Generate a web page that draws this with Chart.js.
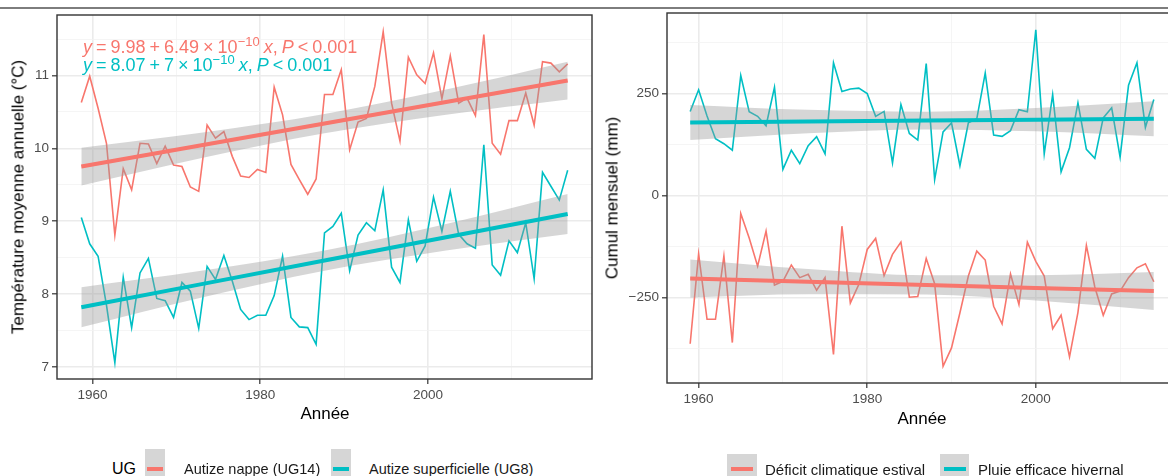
<!DOCTYPE html>
<html lang="fr">
<head>
<meta charset="utf-8">
<title>Température annuelle et bilan hydrique</title>
<script src="https://cdn.jsdelivr.net/npm/chart.js"></script>
<style>
  html, body { margin: 0; padding: 0; background: #fff; }
  body { position: relative; width: 1168px; height: 476px; overflow: hidden;
         font-family: "Liberation Sans", Arial, sans-serif; }
  .rule { position: absolute; left: 0; top: 7px; width: 1168px; height: 2px; background: #7d7d7d; }
  canvas { position: absolute; top: 0; }
  .txt { position: absolute; white-space: nowrap; line-height: 1; color: #000; }
  .ytitle { transform: translate(-50%, -50%) rotate(-90deg); font-size: 17px; }
  .xtitle { transform: translate(-50%, -50%); font-size: 17px; }
  .eq { position: absolute; white-space: nowrap; font-size: 18px; line-height: 18px; word-spacing: -1px; }
  .eq sup { font-size: 13px; line-height: 0; vertical-align: 7px; }
  .key { position: absolute; background: #d6d6d6; }
  .keyline { position: absolute; height: 3.5px; }
  .leg { position: absolute; white-space: nowrap; line-height: 1; color: #1a1a1a; transform: translateY(-50%); }
</style>
</head>
<body>
<div class="rule"></div>
<canvas id="leftChart" width="600" height="440" style="left:0"></canvas>
<canvas id="rightChart" width="600" height="440" style="left:595px"></canvas>

<!-- left figure texts -->
<div class="txt ytitle" style="left:18px; top:197px">Température moyenne annuelle (°C)</div>
<div class="txt xtitle" style="left:325px; top:413px">Année</div>
<div class="eq" style="left:83px; top:38px; color:#F8766D"><i>y</i> = 9.98 + 6.49 × 10<sup>−10</sup> <i>x</i>, <i>P</i> &lt; 0.001</div>
<div class="eq" style="left:83px; top:55.5px; color:#00BFC4"><i>y</i> = 8.07 + 7 × 10<sup>−10</sup> <i>x</i>, <i>P</i> &lt; 0.001</div>

<div class="leg" style="left:112px; top:469px; font-size:16px; color:#000">UG</div>
<div class="key" style="left:145px; top:449px; width:20px; height:40px"></div>
<div class="keyline" style="left:147px; top:467px; width:16px; background:#F8766D"></div>
<div class="leg" style="left:184px; top:469px; font-size:14.5px">Autize nappe (UG14)</div>
<div class="key" style="left:331px; top:449px; width:20px; height:40px"></div>
<div class="keyline" style="left:333px; top:467px; width:16px; background:#00BFC4"></div>
<div class="leg" style="left:369px; top:469px; font-size:14.5px">Autize superficielle (UG8)</div>

<!-- right figure texts -->
<div class="txt ytitle" style="left:612px; top:198px">Cumul mensuel (mm)</div>
<div class="txt xtitle" style="left:922px; top:418px">Année</div>

<div class="key" style="left:727px; top:454px; width:30px; height:40px"></div>
<div class="keyline" style="left:731px; top:467px; width:22px; background:#F8766D"></div>
<div class="leg" style="left:765px; top:469px; font-size:15px">Déficit climatique estival</div>
<div class="key" style="left:940px; top:454px; width:29px; height:40px"></div>
<div class="keyline" style="left:944px; top:467px; width:22px; background:#00BFC4"></div>
<div class="leg" style="left:978px; top:469px; font-size:15px">Pluie efficace hivernal</div>

<script>
// ---- left figure: mean annual temperature (hydrological years) ----
const hydroYears = [];
for (let y = 1959; y <= 2017; y++) hydroYears.push(y);
// a hydrological year starts on 1 September of the previous calendar year
const hydroOffset = -4 / 12;

const tempNappe = [10.63, 10.99, 10.55, 10.07, 8.81, 9.72, 9.43, 10.07, 10.06, 9.79,
  10.03, 9.77, 9.75, 9.47, 9.41, 10.32, 10.14, 10.23, 9.89, 9.62,
  9.60, 9.71, 9.67, 10.84, 10.46, 9.78, 9.57, 9.37, 9.58, 10.74,
  10.74, 11.08, 9.98, 10.36, 10.41, 10.85, 11.60, 10.62, 10.10, 11.25,
  11.01, 10.89, 11.31, 10.68, 11.27, 10.62, 10.69, 10.45, 11.56, 10.07,
  9.92, 10.38, 10.38, 10.76, 10.32, 11.19, 11.17, 11.05, 11.16];
const tempSuperf = [9.05, 8.69, 8.52, 7.85, 7.06, 8.23, 7.54, 8.29, 8.49, 7.94,
  7.91, 7.68, 8.16, 8.04, 7.53, 8.38, 8.20, 8.53, 8.18, 7.79,
  7.65, 7.71, 7.71, 7.98, 8.52, 7.68, 7.55, 7.54, 7.31, 8.84,
  8.93, 9.11, 8.32, 8.81, 8.98, 8.87, 9.43, 8.37, 8.16, 9.02,
  8.45, 8.66, 9.33, 8.86, 9.41, 8.82, 8.69, 8.63, 10.05, 8.40,
  8.26, 8.73, 8.57, 8.98, 8.21, 9.67, 9.48, 9.29, 9.70];

// linear fit and its confidence band, read at a few years
const fitYearsLeft = [1959, 1973.5, 1988, 2002.5, 2017];
const fitNappe = [9.75, 10.045, 10.34, 10.635, 10.93];
const bandNappeLow = [9.49, 9.872, 10.208, 10.462, 10.67];
const bandNappeHigh = [10.01, 10.218, 10.472, 10.808, 11.19];
const fitSuperf = [7.82, 8.14, 8.46, 8.78, 9.10];
const bandSuperfLow = [7.545, 7.957, 8.321, 8.597, 8.825];
const bandSuperfHigh = [8.095, 8.323, 8.599, 8.963, 9.375];

const leftXMajor = [1960, 1980, 2000];
const leftXMinor = [1970, 1990, 2010];
const leftYMajor = [7, 8, 9, 10, 11];
const leftYMinor = [7.5, 8.5, 9.5, 10.5, 11.5];

// ---- right figure: seasonal water balance ----
const years = [];
for (let y = 1959; y <= 2014; y++) years.push(y);

const deficitEte = [-363, -143, -303, -303, -148, -360, -44, -104, -173, -87,
  -219, -210, -170, -201, -193, -232, -201, -389, -75, -263,
  -218, -132, -105, -196, -144, -114, -249, -247, -154, -216,
  -418, -373, -287, -197, -136, -158, -271, -314, -192, -267,
  -114, -161, -197, -326, -293, -395, -286, -122, -224, -293,
  -241, -234, -201, -177, -167, -211];
const pluieHiver = [206, 259, 195, 139, 127, 111, 294, 205, 194, 171,
  265, 64, 111, 78, 122, 144, 102, 325, 255, 261,
  263, 250, 194, 206, 80, 223, 152, 136, 323, 39,
  156, 178, 73, 178, 188, 300, 148, 145, 159, 210,
  205, 406, 102, 247, 58, 117, 227, 113, 91, 190,
  215, 94, 270, 325, 167, 235];

const fitYearsRight = [1959, 1973, 1987, 2000, 2014];
const fitDeficit = [-203, -210.9, -218.8, -226.1, -234];
const bandDeficitLow = [-249.5, -241.9, -242.4, -257.1, -280.5];
const bandDeficitHigh = [-156.5, -179.9, -195.2, -195.1, -187.5];
const fitPluie = [179, 181.3, 183.6, 185.8, 188];
const bandPluieLow = [136, 152.7, 161.8, 157.2, 145];
const bandPluieHigh = [222, 209.9, 205.4, 214.4, 231];

const rightXMajor = [1960, 1980, 2000];
const rightXMinor = [1970, 1990, 2010];
const rightYMajor = [-250, 0, 250];
const rightYMinor = [-375, -125, 125, 375];

// ---- styles ----
const RED = '#F8766D';
const TEAL = '#00BFC4';
const BAND = 'rgba(153,153,153,0.4)';
const FONT = "'Liberation Sans', Arial, sans-serif";

Chart.defaults.font.family = FONT;

function pts(xs, ys, shift = 0) {
    return xs.map((x, i) => ({ x: x + shift, y: ys[i] }));
}

function has(list, v) {
    return list.some(m => Math.abs(m - v) < 1e-6);
}

function scaleOpts(min, max, majors, minors, fitSize, fmt) {
    return {
        type: 'linear',
        min: min,
        max: max,
        afterBuildTicks: s => {
            s.ticks = majors.concat(minors).sort((a, b) => a - b).map(v => ({ value: v }));
        },
        afterFit: fitSize,
        border: { display: false },
        grid: {
            color: c => has(majors, c.tick.value) ? '#ebebeb' : '#f3f3f3',
            lineWidth: c => has(majors, c.tick.value) ? 1.6 : 0.8,
            tickColor: c => has(majors, c.tick.value) ? '#333333' : 'rgba(0,0,0,0)',
            tickLength: 5,
            tickWidth: 1.2
        },
        ticks: {
            autoSkip: false,
            maxRotation: 0,
            padding: 3,
            color: '#4d4d4d',
            font: { size: 13.5 },
            callback: v => has(majors, v) ? fmt(v) : ''
        }
    };
}

const panelBorder = {
    id: 'panelBorder',
    afterDatasetsDraw(chart) {
        const { ctx, chartArea: a } = chart;
        ctx.save();
        ctx.strokeStyle = '#333333';
        ctx.lineWidth = 1.4;
        ctx.strokeRect(a.left, a.top, a.right - a.left, a.bottom - a.top);
        ctx.restore();
    }
};

function seriesSets(xs, ys, color, shift) {
    return { data: pts(xs, ys, shift), borderColor: color, borderWidth: 1.6,
             pointRadius: 0, fill: false, order: 2 };
}

function bandSets(xs, low, high, shift) {
    return [
        { data: pts(xs, high, shift), borderColor: 'transparent', borderWidth: 0, pointRadius: 0,
          fill: false, order: 1, cubicInterpolationMode: 'monotone' },
        { data: pts(xs, low, shift), borderColor: 'transparent', borderWidth: 0, pointRadius: 0,
          fill: '-1', backgroundColor: BAND, order: 1, cubicInterpolationMode: 'monotone' }
    ];
}

function fitSet(xs, ys, color, shift) {
    return { data: pts(xs, ys, shift), borderColor: color, borderWidth: 4, pointRadius: 0,
             fill: false, order: 0 };
}

const baseOptions = {
    responsive: false,
    animation: false,
    plugins: { legend: { display: false }, tooltip: { enabled: false } }
};

// left chart: x range is the data range expanded by 5 % on each side
const leftFirst = hydroYears[0] + hydroOffset;
const leftLast = hydroYears[hydroYears.length - 1] + hydroOffset;
const leftPad = 0.05 * (leftLast - leftFirst);

new Chart(document.getElementById('leftChart'), {
    type: 'line',
    data: {
        datasets: [
            seriesSets(hydroYears, tempNappe, RED, hydroOffset),
            seriesSets(hydroYears, tempSuperf, TEAL, hydroOffset),
            ...bandSets(fitYearsLeft, bandNappeLow, bandNappeHigh, hydroOffset),
            ...bandSets(fitYearsLeft, bandSuperfLow, bandSuperfHigh, hydroOffset),
            fitSet(fitYearsLeft, fitNappe, RED, hydroOffset),
            fitSet(fitYearsLeft, fitSuperf, TEAL, hydroOffset)
        ]
    },
    options: {
        ...baseOptions,
        layout: { padding: { left: 0, right: 8, top: 15, bottom: 21 } },
        scales: {
            x: scaleOpts(leftFirst - leftPad, leftLast + leftPad, leftXMajor, leftXMinor,
                         s => { s.height = 40; }, v => String(v)),
            y: scaleOpts(6.835, 11.83, leftYMajor, leftYMinor,
                         s => { s.width = 57; }, v => String(v))
        }
    },
    plugins: [panelBorder]
});

const rightPad = 0.05 * (years[years.length - 1] - years[0]);

new Chart(document.getElementById('rightChart'), {
    type: 'line',
    data: {
        datasets: [
            seriesSets(years, deficitEte, RED, 0),
            seriesSets(years, pluieHiver, TEAL, 0),
            ...bandSets(fitYearsRight, bandDeficitLow, bandDeficitHigh, 0),
            ...bandSets(fitYearsRight, bandPluieLow, bandPluieHigh, 0),
            fitSet(fitYearsRight, fitDeficit, RED, 0),
            fitSet(fitYearsRight, fitPluie, TEAL, 0)
        ]
    },
    options: {
        ...baseOptions,
        layout: { padding: { left: 0, right: 18, top: 13, bottom: 17 } },
        scales: {
            x: scaleOpts(years[0] - rightPad, years[years.length - 1] + rightPad, rightXMajor, rightXMinor,
                         s => { s.height = 40; }, v => String(v)),
            y: scaleOpts(-459, 447, rightYMajor, rightYMinor,
                         s => { s.width = 72; }, v => String(v).replace('-', '\u2212'))
        }
    },
    plugins: [panelBorder]
});
</script>
</body>
</html>
